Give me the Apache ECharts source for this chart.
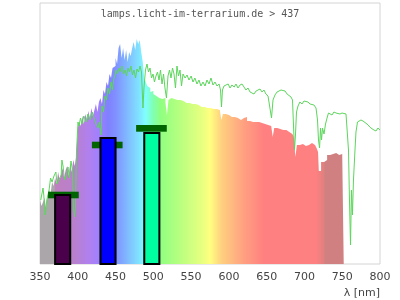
<!DOCTYPE html>
<html>
<head>
<meta charset="utf-8">
<script src="https://cdn.jsdelivr.net/npm/echarts@6/dist/echarts.min.js"></script>
<style>html,body{margin:0;padding:0;background:#fff}#c{width:400px;height:300px}</style>
</head>
<body>
<div id="c"></div>
<script>
// ---- data ----
const titleText = "lamps.licht-im-terrarium.de > 437";
const axisName = "λ [nm]";
const xTicks = [350, 400, 450, 500, 550, 600, 650, 700, 750, 800];

// lamp spectrum (wavelength nm, relative intensity)
const specNm = [350,352,354,356,358,360,362,364,366,368,370,372,374,376,378,380,382,384,386,388,390,392,394,396,398,
  400,402,404,406,408,410,412,414,416,418,420,422,424,426,428,430,432,434,436,438,440,442,444,446,448,450,452,454,456,458,
  460,462,464,466,468,470,472,474,476,478,480,482,484,486,488,490,492,494,496,498,500,502,504,506,508,510,512,514,516,518,
  520,522,524,526,528,530,532,534,536,538,540,544,548,552,556,560,564,568,572,576,580,584,588,590,592,596,600,604,608,612,
  616,620,624,628,632,636,640,644,648,652,656,658,660,664,668,672,676,680,684,686,688,690,694,698,702,706,710,714,716,718,
  719,722,726,728,730,734,738,742,746,750,752];
const specVal = [64,58,62,66,56,68,74,70,82,78,86,80,92,84,90,96,86,94,98,88,100,92,104,98,108,
  136,142,138,148,140,150,144,153,146,156,148,154,160,152,162,166,160,174,170,182,178,190,186,196,198,206,200,216,220,206,
  216,204,214,202,212,208,216,222,214,225,220,224,212,202,186,182,178,176,172,173,170,168,169,166,167,165,164,166,162,149,
  164,166,167,165,167,164,162,164,162,163,161,161,160,160,159,157,157,156,156,155,155,154,154,144,150,149,147,147,146,144,
  146,147,143,142,142,142,141,140,139,138,138,127,136,135,134,134,132,130,128,127,107,119,120,118,119,121,119,118,116,112,
  93,102,100,104,109,110,111,109,110,109,109];

// reference daylight curve (wavelength nm, relative intensity)
const sunNm = [351,353,354,355,357,359,362,364,366,368.5,371,372.5,375,378,379,380.5,382.5,384.5,387,389,391,393,394.3,395.7,397,398.3,
  400.3,401.6,403.6,405.6,408,411,413.5,416,419,421.5,424,427,428.7,430.7,432,434,436,438,440,442,444,446,447.3,449,450.6,452.6,454.6,456.5,458.5,
  460.5,462.5,464.5,466.5,468.5,470.4,472.4,474.4,476.4,478.4,480.4,482.4,484.3,486.3,487.6,489.6,491.6,493.6,495.6,497.6,499.6,
  501.5,503.5,505.5,507.5,509.5,511.5,513.5,515.4,517.4,519.4,521.4,523.4,525.4,527.4,529.3,531.3,533.3,535.3,537.3,539.3,
  542,544.6,547.2,550,552.5,555,557.8,560.4,563,565.7,568.4,571,573.7,576.3,579,581.6,584.3,587,588.9,590.2,591.5,593.5,596,599,
  601.5,604,607,609.4,612,614.7,617.4,620,622.6,625.3,628,630.6,633.2,636,638.5,641.2,643.8,646.5,649,651.8,654.4,656.4,658.4,
  661,663.7,666.3,669,671.6,674.3,677,679.6,682.2,684.2,685.5,686.8,688.1,689.5,691.5,694,696.8,699.4,702,704.7,707.4,710,712.6,
  715.3,717.3,718.6,720,721.3,722.6,723.9,725.9,727.9,729.9,731.8,733.8,736.5,739,741.8,744.4,747,749.7,752.3,755,757,758.3,
  759.6,761,762.2,763.5,764.9,766.9,768.2,770.2,772.2,774.8,777.5,780,782.8,785.4,788,790,792,794.7,797.3,800];
const sunVal = [64,66,76,69,49,64,74,86,82,88,92,80,78,89,104,98,84,88,97,86,103,94,56,47,59,112,
  142,138,146,140,148,142,150,144,152,146,140,136,142,129,158,152,168,164,176,170,182,174,184,188,194,190,196,192,198,
  190,194,188,196,192,198,189,194,186,195,192,198,192,156,176,194,200,192,196,186,190,
  182,188,192,184,194,180,190,176,166,188,194,186,196,190,176,198,188,194,178,190,
  186,189,184,188,182,186,180,184,178,182,178,184,180,186,179,182,178,180,174,157,174,178,176,180,
  176,179,177,180,176,179,180,178,174,176,172,174,170,173,171,175,172,174,170,168,167,146,164,
  169,172,170,174,172,173,170,168,167,164,139,114,129,152,158,162,160,163,161,162,160,160,159,
  156,144,124,116,136,124,136,130,140,146,151,150,149,152,151,152,150,151,150,150,148,114,
  64,19,74,49,84,114,132,142,144,144,143,142,140,139,136,137,134,133,136,134];

// measured peaks: centre nm, bar height, bar colour
const barNm = [380, 440, 498];
const barVal = [69, 126, 131];
const barColors = ["#4b004b", "#0000ff", "#00ffa0"];
const barHalfWidth = 10;
// marker range per peak
const capNm = [381, 439, 497.5];
const capLow = [65.7, 115.7, 132.3];
const capHigh = [72.3, 122.3, 139];
const capHalfWidth = 20.3;

// spectrum colour stops (nm, colour)
const gradNm = [350, 369, 370, 395, 415, 428, 440, 450, 465, 480, 490, 500, 510, 540, 565, 575, 590, 600, 620, 640, 645, 715, 726, 727, 752];
const gradColor = ["#aaa6aa","#aaa6aa","#c080c0","#b880cc","#b080ee","#a080ff","#8080ff","#8090ff","#80b8ff","#80e0ff","#80ffff","#80ffb0","#90ff80","#c0ff80","#e8ff80","#ffff80","#ffd080","#ffc080","#ffa080","#ff8880","#ff8080","#ff8080","#e08080","#d08080","#d08080"];

// ---- chart ----
const chart = echarts.init(document.getElementById('c'), null, {renderer: 'canvas'});
const n0 = specNm[0], n1 = specNm[specNm.length - 1];
const stops = gradNm.map((nm, i) => ({offset: (nm - n0) / (n1 - n0), color: gradColor[i]}));
const specData = specNm.map((x, i) => [x, specVal[i]]);
const sunData = sunNm.map((x, i) => [x, sunVal[i]]);
const barData = barNm.map((x, i) => [x, barVal[i], barHalfWidth]);
const capData = capNm.map((x, i) => [x, capLow[i], capHigh[i], capHalfWidth]);

chart.setOption({
  animation: false,
  backgroundColor: '#fff',
  title: {
    text: titleText, left: 'center', top: 4,
    textStyle: {fontFamily: 'DejaVu Sans Mono', fontSize: 10, fontWeight: 'normal', color: '#555'}
  },
  grid: {left: 40, right: 20, top: 3, bottom: 36, show: true, borderColor: '#d4d4d4', borderWidth: 1, containLabel: false, outerBoundsMode: 'none'},
  xAxis: {
    type: 'value', min: xTicks[0], max: xTicks[xTicks.length - 1], interval: 50,
    axisLine: {show: false}, axisTick: {show: false}, splitLine: {show: false},
    axisLabel: {color: '#444', fontSize: 11, fontFamily: 'DejaVu Sans', margin: 8, showMinLabel: true, showMaxLabel: true}
  },
  yAxis: {type: 'value', min: 0, max: 261, show: false, splitLine: {show: false}},
  graphic: [{
    type: 'text', right: 20, top: 288,
    style: {text: axisName, fill: '#444', font: '11px "DejaVu Sans"'}
  }],
  series: [
    {
      type: 'line', data: specData, step: 'end', symbol: 'none', silent: true, z: 1,
      lineStyle: {width: 0, opacity: 0},
      areaStyle: {opacity: 1, color: new echarts.graphic.LinearGradient(0, 0, 1, 0, stops)}
    },
    {
      type: 'line', data: sunData, symbol: 'none', silent: true, z: 2,
      lineStyle: {width: 1, color: '#5cd65c'}
    },
    {
      type: 'custom', data: capData, z: 3, silent: true,
      renderItem: function (params, api) {
        const c = api.value(0), lo = api.value(1), hi = api.value(2), hw = api.value(3);
        const p1 = api.coord([c - hw, hi]);
        const p2 = api.coord([c + hw, lo]);
        return {type: 'rect', shape: {x: p1[0], y: p1[1], width: p2[0] - p1[0], height: p2[1] - p1[1]}, style: {fill: '#006400'}};
      }
    },
    {
      type: 'custom', data: barData, z: 4, silent: true,
      renderItem: function (params, api) {
        const c = api.value(0), v = api.value(1), hw = api.value(2);
        const p1 = api.coord([c - hw, v]);
        const p2 = api.coord([c + hw, 0]);
        return {type: 'rect', shape: {x: p1[0], y: p1[1], width: p2[0] - p1[0], height: p2[1] - p1[1]},
          style: {fill: barColors[params.dataIndex], stroke: '#000', lineWidth: 2}};
      }
    }
  ]
});
</script>
</body>
</html>
